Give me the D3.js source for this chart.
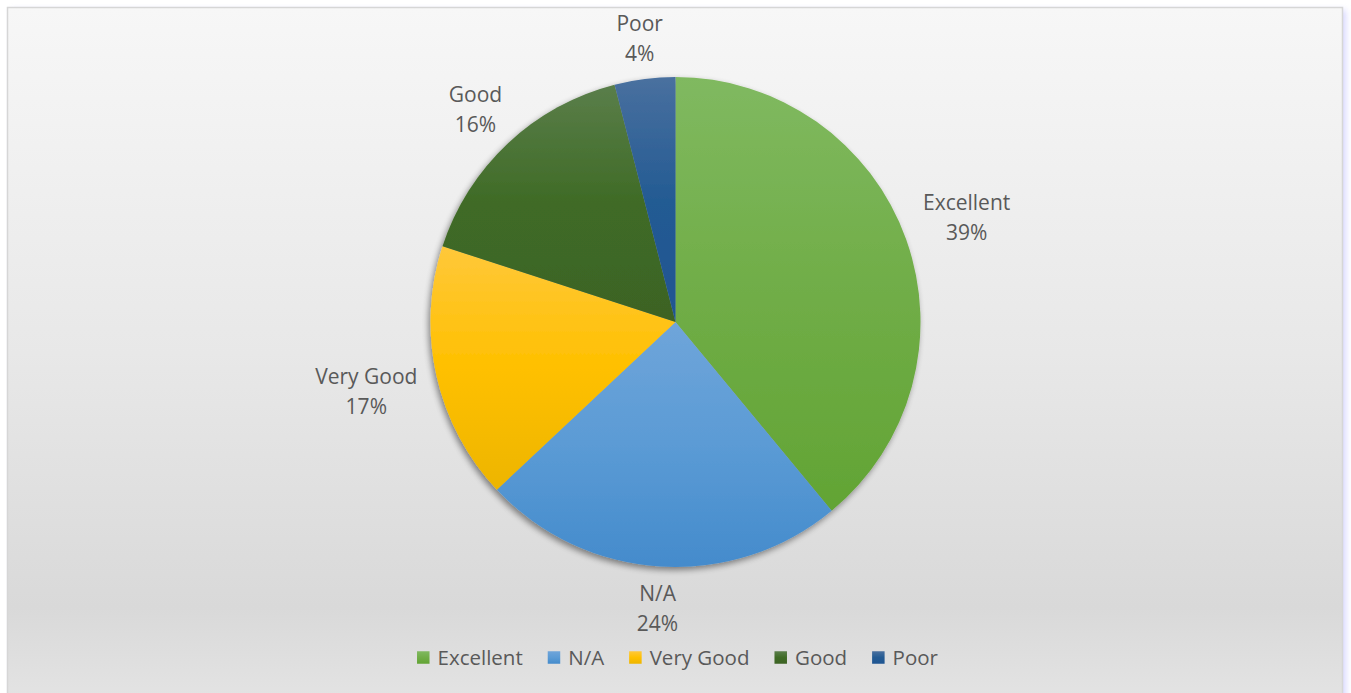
<!DOCTYPE html>
<html>
<head>
<meta charset="utf-8">
<script src="https://cdn.jsdelivr.net/npm/d3@7"></script>
<style>
  html, body { margin: 0; padding: 0; background: #ffffff; }
  svg { display: block; }
  text { font-family: "Open Sans", "Noto Sans", sans-serif; fill: #595959; }
</style>
</head>
<body>
<svg id="chart" width="1351" height="693"></svg>
<script>
// ---- data ----
const categories = ["Excellent", "N/A", "Very Good", "Good", "Poor"];
const values = [39, 24, 17, 16, 4];
const percentLabels = ["39%", "24%", "17%", "16%", "4%"];
const baseColors = ["#70AD47", "#5B9BD5", "#FFC000", "#3F6B26", "#245B93"];
const topColors  = ["#80B960", "#6FA5DA", "#FFC83A", "#5A7E4A", "#49709F"];
const botColors  = ["#62A434", "#448BCC", "#EDB500", "#3D6324", "#1F5592"];

const W = 1351, H = 693;
const svg = d3.select("#chart");
const defs = svg.append("defs");

// background gradient
const bg = defs.append("linearGradient").attr("id", "bgGrad")
  .attr("x1", 0).attr("y1", 0).attr("x2", 0).attr("y2", 1);
bg.append("stop").attr("offset", 0).attr("stop-color", "#f7f7f7");
bg.append("stop").attr("offset", 0.5).attr("stop-color", "#e8e8e8");
bg.append("stop").attr("offset", 0.87).attr("stop-color", "#d9d9d9");
bg.append("stop").attr("offset", 1).attr("stop-color", "#e3e3e3");

// blue-ish right shadow
const sh = defs.append("filter").attr("id", "frameShadow")
  .attr("x", "-5%").attr("y", "-5%").attr("width", "110%").attr("height", "110%");
sh.append("feGaussianBlur").attr("stdDeviation", 3);

svg.append("rect").attr("x", 12).attr("y", 10).attr("width", 1334).attr("height", 690)
  .attr("fill", "#c8c8ff").attr("opacity", 0.7).attr("filter", "url(#frameShadow)");

svg.append("rect").attr("x", 7.5).attr("y", 7.5).attr("width", 1335).attr("height", 690)
  .attr("fill", "url(#bgGrad)").attr("stroke", "#d6d6d6").attr("stroke-width", 1.5);

// slice gradients
categories.forEach((c, i) => {
  const g = defs.append("linearGradient").attr("id", "sg" + i)
    .attr("x1", 0).attr("y1", 0).attr("x2", 0).attr("y2", 1);
  g.append("stop").attr("offset", 0).attr("stop-color", topColors[i]);
  g.append("stop").attr("offset", 0.5).attr("stop-color", baseColors[i]);
  g.append("stop").attr("offset", 1).attr("stop-color", botColors[i]);
});

// pie shadow
const ps = defs.append("filter").attr("id", "pieShadow")
  .attr("x", "-10%").attr("y", "-10%").attr("width", "120%").attr("height", "120%");
ps.append("feGaussianBlur").attr("in", "SourceAlpha").attr("stdDeviation", 3).attr("result", "b");
ps.append("feOffset").attr("in", "b").attr("dx", -2).attr("dy", 3).attr("result", "o");
ps.append("feComponentTransfer").attr("in", "o").attr("result", "o2")
  .append("feFuncA").attr("type", "linear").attr("slope", 0.45);
const m = ps.append("feMerge");
m.append("feMergeNode").attr("in", "o2");
m.append("feMergeNode").attr("in", "SourceGraphic");

const cx = 675.5, cy = 322, r = 245;
const data = categories.map((c, i) => ({ name: c, value: values[i], pct: percentLabels[i], i }));
const pie = d3.pie().value(d => d.value).sort(null);
const arcs = pie(data);
const arc = d3.arc().innerRadius(0).outerRadius(r);

const g = svg.append("g").attr("transform", `translate(${cx},${cy})`);
const sliceG = g.append("g").attr("filter", "url(#pieShadow)");
sliceG.selectAll("path").data(arcs).join("path")
  .attr("d", arc)
  .attr("fill", d => `url(#sg${d.data.i})`)
  .attr("stroke", "none");

// labels
const fs = 21;
const lineH = 30;
const gap = 15;
arcs.forEach(d => {
  const a = (d.startAngle + d.endAngle) / 2;
  const t = g.append("text").attr("font-size", fs).attr("text-anchor", "middle");
  t.append("tspan").attr("x", 0).attr("dy", 0).text(d.data.name);
  t.append("tspan").attr("x", 0).attr("dy", lineH).text(d.data.pct);
  const bb = t.node().getBBox();
  const hw = bb.width / 2, hh = bb.height / 2 * 0.9;
  const s = Math.abs(Math.sin(a)), c = Math.abs(Math.cos(a));
  const dist = r + gap + s * s * hw * 1.05 + c * hh;
  const lx = Math.sin(a) * dist, ly = -Math.cos(a) * dist;
  const bcy = bb.y + bb.height / 2;
  t.attr("transform", `translate(${lx},${ly - bcy})`);
});

// legend
const legend = svg.append("g");
const sq = 12.5, itemGap = 25, textOff = 8;
const items = [];
data.forEach(d => {
  const it = legend.append("g");
  it.append("rect").attr("x", 0).attr("y", -sq / 2).attr("width", sq).attr("height", sq)
    .attr("fill", `url(#sg${d.i})`);
  const tx = it.append("text").attr("x", sq + textOff).attr("y", 0).attr("dy", "0.35em")
    .attr("font-size", 20.5).text(d.name);
  const w = sq + textOff + tx.node().getComputedTextLength();
  items.push({ it, w });
});
let total = items.reduce((s, o) => s + o.w, 0) + itemGap * (items.length - 1);
let x0 = 0;
items.forEach(o => { o.it.attr("transform", `translate(${x0},0)`); x0 += o.w + itemGap; });
legend.attr("transform", `translate(${(W - total) / 2 + 2},${657.5})`);
</script>
</body>
</html>
